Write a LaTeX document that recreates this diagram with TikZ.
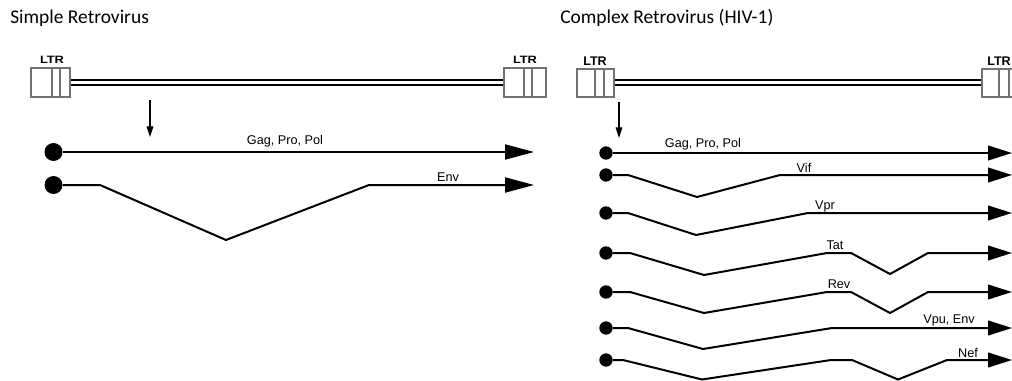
\documentclass[tikz,border=0pt]{standalone}
\usepackage{fontspec}
\setmainfont{Liberation Sans}
\newfontfamily\titlefont{Carlito}
\usetikzlibrary{arrows.meta}
\begin{document}
\begin{tikzpicture}[x=0.75pt,y=-0.75pt,
  title/.style={font=\titlefont\fontsize{14.6}{16}\selectfont, anchor=base west, inner sep=0},
  ltrbox/.style={draw=black!55, line width=0.8pt, fill=white, inner sep=0},
  divider/.style={draw=black!55, line width=0.8pt},
  ltrS/.style={font=\bfseries\fontsize{8}{9}\selectfont, anchor=base, inner sep=0, xscale=1.2},
  ltrC/.style={font=\bfseries\fontsize{9.4}{10}\selectfont, anchor=base, inner sep=0},
  genome/.style={draw=black, double=white, line width=1.3pt, double distance=2pt},
  startarrow/.style={draw=black, line width=0.8pt, -{Triangle[length=8pt,width=5pt]}},
  dotL/.style={circle, fill=black, inner sep=0, minimum size=13.5pt},
  dotR/.style={circle, fill=black, inner sep=0, minimum size=10pt},
  rowL/.style={draw=black, line width=1.5pt, -{Triangle[length=21.75pt,width=11.25pt]}},
  rowR/.style={draw=black, line width=1.5pt, -{Triangle[length=18pt,width=11pt]}},
  labL/.style={font=\fontsize{9.5}{11}\selectfont, anchor=base, inner sep=0},
  labR/.style={font=\fontsize{9.5}{11}\selectfont, anchor=base, inner sep=0}
]
\useasboundingbox (0,0) rectangle (1012,381);
\clip (0,0) rectangle (1012,381);

% ---------- titles ----------
\node[title] (t1) at (10,24) {Simple Retrovirus};
\node[title] (t2) at (560,24) {Complex Retrovirus (HIV-1)};

% ---------- simple retrovirus genome ----------
\draw[genome] (70,82.5) coordinate (gs1) -- (504,82.5) coordinate (gs2);
\node[ltrbox, minimum width=29.25pt, minimum height=21.75pt] (L1) at (50.5,82.5) {};
\draw[divider] (52,68) -- (52,97) (60,68) -- (60,97);
\node[ltrbox, minimum width=31.5pt, minimum height=21.75pt] (L2) at (525,82.5) {};
\draw[divider] (524,68) -- (524,97) (532,68) -- (532,97);
\node[ltrS] (l1) at (52,64) {LTR};
\node[ltrS] (l2) at (525,64) {LTR};

\coordinate (as1) at (150,100);
\coordinate (as2) at (150,137);
\draw[startarrow] (as1) -- (as2);

% ---------- simple retrovirus transcripts ----------
\node[dotL] (sg) at (53.5,152) {};
\coordinate (sge) at (534,152);
\draw[rowL] (sg) -- (sge);
\node[labL] (sgl) at (285,144) {Gag, Pro, Pol};

\node[dotL] (se) at (53.5,185) {};
\coordinate (see) at (534,185);
\draw[rowL] (se) -- (100,185) -- (226,240) -- (369,185) -- (see);
\node[labL] (sel) at (448,181) {Env};

% ---------- complex retrovirus genome ----------
\draw[genome] (614,82.5) coordinate (gc1) -- (982,82.5) coordinate (gc2);
\node[ltrbox, minimum width=27.75pt, minimum height=21pt] (R1) at (595.5,83) {};
\draw[divider] (595,69) -- (595,97) (604,69) -- (604,97);
\node[ltrbox, minimum width=36pt, minimum height=21pt] (R2) at (1006,83) {};
\draw[divider] (999,69) -- (999,97) (1009,69) -- (1009,97);
\node[ltrC] (r1) at (595,66) {LTR};
\node[ltrC, anchor=base west] (r2) at (987,66) {LTR};

\coordinate (ac1) at (619,102);
\coordinate (ac2) at (619,138);
\draw[startarrow] (ac1) -- (ac2);

% ---------- complex retrovirus transcripts ----------
\node[dotR] (cg) at (606,153) {};
\coordinate (cge) at (1012,153);
\draw[rowR] (cg) -- (cge);
\node[labR] at (703,147) {Gag, Pro, Pol};

\node[dotR] (cv) at (606,175) {};
\coordinate (cve) at (1012,175);
\draw[rowR] (cv) -- (628,175) -- (697,197) -- (780,175) -- (cve);
\node[labR] at (804,172) {Vif};

\node[dotR] (cp) at (606,213) {};
\coordinate (cpe) at (1012,213);
\draw[rowR] (cp) -- (628,213) -- (696,235) -- (808,213) -- (cpe);
\node[labR] at (825,209) {Vpr};

\node[dotR] (ct) at (606,253) {};
\coordinate (cte) at (1012,253);
\draw[rowR] (ct) -- (630,253) -- (704,275) -- (827,253) -- (851,253) -- (890,274) -- (928,253) -- (cte);
\node[labR] at (835,249) {Tat};

\node[dotR] (cr) at (606,292) {};
\coordinate (cre) at (1012,292);
\draw[rowR] (cr) -- (630,292) -- (704,313) -- (827,292) -- (851,292) -- (890,313) -- (928,292) -- (cre);
\node[labR] at (839,288) {Rev};

\node[dotR] (cu) at (606,328) {};
\coordinate (cue) at (1012,328);
\draw[rowR] (cu) -- (628,328) -- (703,349) -- (832,328) -- (cue);
\node[labR] at (949,323) {Vpu, Env};

\node[dotR] (cn) at (606,360) {};
\coordinate (cne) at (1012,360);
\draw[rowR] (cn) -- (623,360) -- (702,379.5) -- (831,360) -- (852,360) -- (898,379.5) -- (947,360) -- (cne);
\node[labR] at (968,357) {Nef};
\end{tikzpicture}
\end{document}
